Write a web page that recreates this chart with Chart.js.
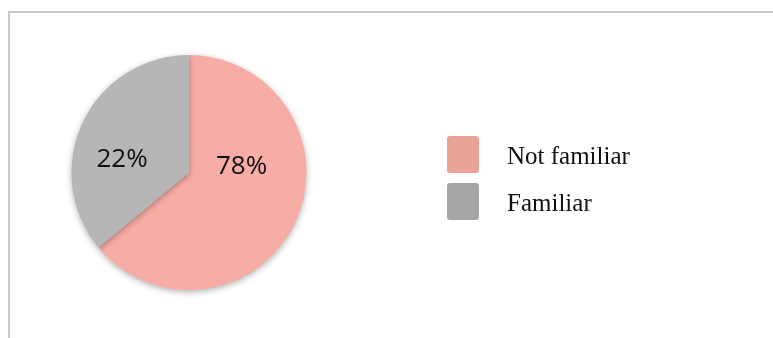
<!DOCTYPE html>
<html>
<head>
<meta charset="utf-8">
<script src="https://cdn.jsdelivr.net/npm/chart.js@4.4.1/dist/chart.umd.min.js"></script>
<style>
  html, body { margin: 0; padding: 0; background: #fff; }
  #wrap { position: relative; width: 773px; height: 338px; overflow: hidden; }
  #frame {
    position: absolute; left: 8px; top: 11px; width: 800px; height: 400px;
    border-left: 2px solid #C9C9C9; border-top: 2px solid #C9C9C9;
  }
  canvas { position: absolute; left: 0; top: 0; }
</style>
</head>
<body>
<div id="wrap">
  <div id="frame"></div>
  <canvas id="pieChart" width="773" height="338"></canvas>
</div>
<script>
/* data */
const CATEGORIES   = ['Not familiar', 'Familiar'];
const SLICE_VALUES = [64, 36];          // slice sizes as drawn
const SLICE_LABELS = ['78%', '22%'];    // percentages printed on the slices

const FILL_INNER = ['#F7ACA5', '#B6B6B6'];
const FILL_OUTER = ['#E6958D', '#979797'];
const LEGEND_COLORS = ['#E9A397', '#A6A6A6'];

// label placement: angle (deg, clockwise from top) and fraction of radius
const LABEL_POS = [
  { ang: 84,  r: 0.45 },
  { ang: 281, r: 0.58 },
];

const shadowPlugin = {
  id: 'pieShadow',
  beforeDatasetsDraw(chart) {
    const ctx = chart.ctx;
    ctx.save();
    ctx.shadowColor = 'rgba(0,0,0,0.30)';
    ctx.shadowBlur = 6;
    ctx.shadowOffsetY = 2;
  },
  afterDatasetsDraw(chart) {
    chart.ctx.restore();
  },
};

const labelPlugin = {
  id: 'sliceLabels',
  afterDatasetsDraw(chart) {
    const ctx = chart.ctx;
    const arc = chart.getDatasetMeta(0).data[0];
    const cx = arc.x, cy = arc.y, R = arc.outerRadius;
    ctx.save();
    ctx.font = '26px "Open Sans", "Liberation Sans", sans-serif';
    ctx.fillStyle = '#111';
    ctx.textAlign = 'center';
    ctx.textBaseline = 'middle';
    SLICE_LABELS.forEach((t, i) => {
      const a = LABEL_POS[i].ang * Math.PI / 180;
      const r = LABEL_POS[i].r * R;
      ctx.fillText(t, cx + Math.sin(a) * r, cy - Math.cos(a) * r);
    });
    ctx.restore();
  },
};

const legendPlugin = {
  id: 'sideLegend',
  afterDraw(chart) {
    const ctx = chart.ctx;
    ctx.save();
    ctx.font = '25px "Liberation Serif", "Times New Roman", serif';
    ctx.textBaseline = 'middle';
    CATEGORIES.forEach((c, i) => {
      const y = 136 + i * 47;
      ctx.fillStyle = LEGEND_COLORS[i];
      ctx.beginPath();
      ctx.roundRect(447, y, 32, 37, 3);
      ctx.fill();
      ctx.fillStyle = '#111';
      ctx.fillText(c, 507, y + 21);
    });
    ctx.restore();
  },
};

function sliceFill(ctx, i) {
  const chart = ctx.chart;
  const meta = chart.getDatasetMeta(0);
  const arc = meta.data[ctx.dataIndex];
  if (!arc || !arc.outerRadius) return FILL_INNER[i];
  const g = chart.ctx.createRadialGradient(arc.x, arc.y, 0, arc.x, arc.y, arc.outerRadius);
  g.addColorStop(0, FILL_INNER[i]);
  g.addColorStop(0.85, FILL_INNER[i]);
  g.addColorStop(1, FILL_OUTER[i]);
  return g;
}

new Chart(document.getElementById('pieChart'), {
  type: 'pie',
  data: {
    labels: CATEGORIES,
    datasets: [{
      data: SLICE_VALUES,
      backgroundColor: ctx => sliceFill(ctx, ctx.dataIndex),
      borderWidth: 0,
    }],
  },
  options: {
    responsive: false,
    animation: false,
    layout: { padding: { left: 71, top: 55, right: 466, bottom: 48 } },
    plugins: {
      legend: { display: false },
      tooltip: { enabled: false },
    },
  },
  plugins: [shadowPlugin, labelPlugin, legendPlugin],
});
</script>
</body>
</html>
